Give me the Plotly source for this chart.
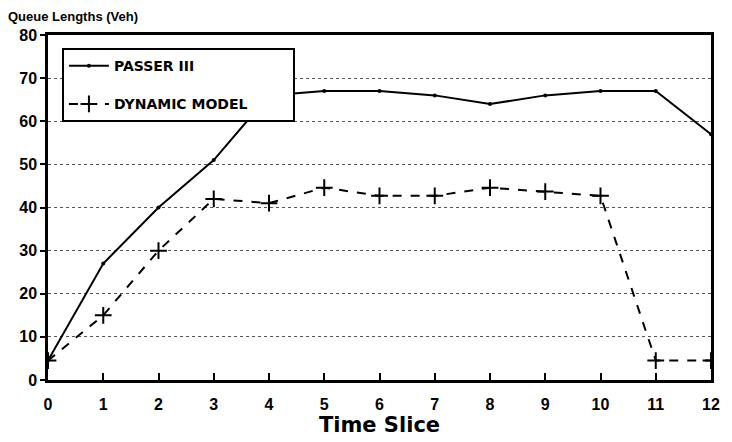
import plotly.graph_objects as go

# Queue lengths per time slice for the two estimation methods
time_slice = [0, 1, 2, 3, 4, 5, 6, 7, 8, 9, 10, 11, 12]
passer_iii = [4.5, 27, 40, 51, 66, 67, 67, 66, 64, 66, 67, 67, 57]
dynamic_model = [4.5, 15, 30, 42, 41, 44.6, 42.7, 42.7, 44.6, 43.7, 42.7, 4.5, 4.5]

x_ticks = list(range(0, 13))
y_ticks = list(range(0, 81, 10))

FONT = "Liberation Sans, Arial, Helvetica, sans-serif"
WIDE = "DejaVu Sans, Liberation Sans, sans-serif"
PAD = "\u00a0" * 9  # widens the legend box to the right

fig = go.Figure()
fig.add_trace(go.Scatter(
    x=time_slice, y=passer_iii, name="<b>PASSER III</b>" + PAD,
    legendgroup="a",
    mode="lines+markers",
    line=dict(color="black", width=2),
    marker=dict(symbol="circle", size=4, color="black"),
))
fig.add_trace(go.Scatter(
    x=time_slice, y=dynamic_model, name="<b>DYNAMIC MODEL</b>" + PAD,
    legendgroup="b",
    mode="lines+markers",
    line=dict(color="black", width=2, dash="dash"),
    marker=dict(symbol="cross-thin", size=12, line=dict(color="black", width=2)),
))

fig.update_layout(
    width=732, height=442,
    margin=dict(l=48, r=15, t=35, b=62),
    paper_bgcolor="white", plot_bgcolor="white",
    font=dict(family=FONT, color="black"),
    showlegend=True,
    legend=dict(
        x=0.021, y=0.962, xanchor="left", yanchor="top",
        bgcolor="white", bordercolor="black", borderwidth=2,
        font=dict(size=14, family=WIDE, color="black"),
        itemwidth=40, traceorder="grouped", tracegroupgap=17,
    ),
    xaxis=dict(
        range=[0, 12], tickvals=x_ticks, ticktext=[f"<b>{v}</b>" for v in x_ticks],
        showgrid=False, zeroline=False,
        showline=True, linecolor="black", linewidth=2.5, mirror=True,
        ticks="inside", ticklen=7, tickwidth=2, tickcolor="black",
        tickfont=dict(size=16, family=FONT), ticklabelstandoff=8,
        title=dict(text="<b>Time Slice</b>", font=dict(size=21, family=WIDE), standoff=2),
    ),
    yaxis=dict(
        range=[0, 80], tickvals=y_ticks, ticktext=[f"<b>{v}</b>" for v in y_ticks],
        showgrid=True, gridcolor="#555555", gridwidth=1, griddash="dot",
        zeroline=False,
        showline=True, linecolor="black", linewidth=2.5, mirror=True,
        ticks="outside", ticklen=5, tickwidth=2, tickcolor="black",
        tickfont=dict(size=16, family=FONT),
    ),
    annotations=[dict(
        text="<b>Queue Lengths (Veh)</b>", xref="paper", yref="paper",
        x=-0.064, y=1.0, xanchor="left", yanchor="bottom", yshift=9,
        showarrow=False, font=dict(size=13, family=FONT, color="black"),
    )],
)

fig.write_html("out.html")
